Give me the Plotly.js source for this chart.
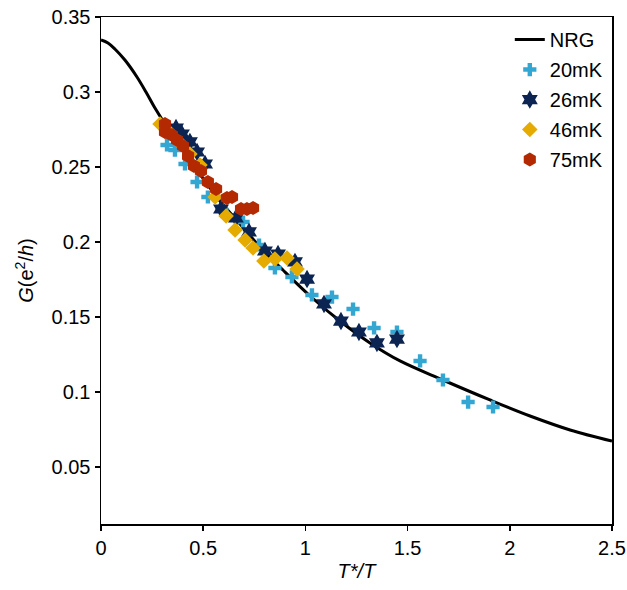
<!DOCTYPE html>
<html>
<head>
<meta charset="utf-8">
<script src="https://cdn.plot.ly/plotly-3.0.1.min.js"></script>
<style>html,body{margin:0;padding:0;background:#fff;}#chart{width:627px;height:590px;}</style>
</head>
<body>
<div id="chart"></div>
<script>
// NRG universal curve
const nrgX = [0, 0.034, 0.068, 0.117, 0.176, 0.220, 0.264, 0.313, 0.387, 0.460, 0.523, 0.582, 0.680, 0.778, 0.890, 1.023, 1.169, 1.316, 1.463, 1.673, 1.903, 2.099, 2.295, 2.5];
const nrgY = [0.3347, 0.3327, 0.3287, 0.3213, 0.310, 0.300, 0.2893, 0.2787, 0.264, 0.250, 0.238, 0.2273, 0.212, 0.1967, 0.1813, 0.164, 0.1473, 0.1327, 0.1207, 0.108, 0.0947, 0.084, 0.0747, 0.0673];

// 20 mK
const x20 = [0.323, 0.362, 0.411, 0.470, 0.523, 0.592, 0.695, 0.773, 0.851, 0.934, 1.032, 1.130, 1.233, 1.336, 1.448, 1.561, 1.673, 1.796, 1.918];
const y20 = [0.2647, 0.2613, 0.252, 0.240, 0.230, 0.2213, 0.2133, 0.198, 0.1827, 0.1767, 0.1647, 0.1633, 0.1553, 0.1427, 0.140, 0.1207, 0.108, 0.0933, 0.090];

// 26 mK
const x26 = [0.367, 0.396, 0.435, 0.470, 0.509, 0.587, 0.660, 0.724, 0.802, 0.866, 0.949, 1.008, 1.091, 1.174, 1.262, 1.350, 1.448];
const y26 = [0.276, 0.272, 0.2667, 0.260, 0.252, 0.222, 0.216, 0.2067, 0.194, 0.192, 0.1867, 0.1753, 0.1587, 0.1473, 0.140, 0.1327, 0.1353];

// 46 mK
const x46 = [0.289, 0.338, 0.387, 0.435, 0.484, 0.558, 0.612, 0.656, 0.705, 0.744, 0.797, 0.851, 0.910, 0.959];
const y46 = [0.2787, 0.2727, 0.266, 0.2587, 0.2513, 0.230, 0.2173, 0.208, 0.2013, 0.196, 0.1873, 0.1887, 0.1893, 0.182];

// 75 mK
const x75 = [0.313, 0.313, 0.347, 0.372, 0.401, 0.426, 0.455, 0.489, 0.523, 0.563, 0.616, 0.641, 0.685, 0.714, 0.744];
const y75 = [0.2787, 0.2733, 0.2713, 0.268, 0.264, 0.2573, 0.2507, 0.2473, 0.240, 0.2353, 0.2293, 0.230, 0.222, 0.222, 0.2227];

const xTicks = [0, 0.5, 1, 1.5, 2, 2.5];
const xTickText = ['0', '0.5', '1', '1.5', '2', '2.5'];
const yTicks = [0.05, 0.1, 0.15, 0.2, 0.25, 0.3, 0.35];
const yTickText = ['0.05', '0.1', '0.15', '0.2', '0.25', '0.3', '0.35'];

const FONT = 'Arial, "Liberation Sans", sans-serif';

const traces = [
  {x: nrgX, y: nrgY, type: 'scatter', mode: 'lines', name: 'NRG', line: {color: '#000000', width: 3, shape: 'spline', smoothing: 1}, legendgroup: 'a'},
  {x: x20, y: y20, type: 'scatter', mode: 'markers', name: '20mK', marker: {symbol: 'cross', size: 11, color: '#33a6d2'}, legendgroup: 'b'},
  {x: x26, y: y26, type: 'scatter', mode: 'markers', name: '26mK', marker: {symbol: 'hexagram', size: 14, color: '#0b2452'}, legendgroup: 'c'},
  {x: x46, y: y46, type: 'scatter', mode: 'markers', name: '46mK', marker: {symbol: 'diamond', size: 12, color: '#e6ab00'}, legendgroup: 'd'},
  {x: x75, y: y75, type: 'scatter', mode: 'markers', name: '75mK', marker: {symbol: 'hexagon', size: 14, color: '#b32a02'}, legendgroup: 'e'}
];

const layout = {
  width: 627, height: 590,
  margin: {l: 101, r: 15, t: 17, b: 66},
  paper_bgcolor: '#ffffff', plot_bgcolor: '#ffffff',
  font: {family: FONT, size: 20, color: '#000000'},
  showlegend: true,
  legend: {x: 0.80, y: 0.994, xanchor: 'left', yanchor: 'top', bgcolor: 'rgba(0,0,0,0)', font: {family: FONT, size: 20}, tracegroupgap: 1, itemwidth: 30},
  xaxis: {
    range: [0, 2.5], tickmode: 'array', tickvals: xTicks, ticktext: xTickText,
    showgrid: false, zeroline: false, showline: true, linecolor: '#000', linewidth: 1.5, mirror: true,
    ticks: 'outside', ticklen: 5, tickwidth: 1.5, tickcolor: '#000',
    tickfont: {family: FONT, size: 20},
    title: {text: '<i>T*/T</i>', font: {family: FONT, size: 20}, standoff: 6}
  },
  yaxis: {
    range: [0.012, 0.35], tickmode: 'array', tickvals: yTicks, ticktext: yTickText,
    showgrid: false, zeroline: false, showline: true, linecolor: '#000', linewidth: 1.5, mirror: true,
    ticks: 'outside', ticklen: 5, tickwidth: 1.5, tickcolor: '#000',
    tickfont: {family: FONT, size: 20},
    title: {text: '<i>G</i>(e<sup>2</sup>/<i>h</i>)', font: {family: FONT, size: 20}, standoff: 12}
  }
};

Plotly.newPlot('chart', traces, layout, {displayModeBar: false, staticPlot: true});
</script>
</body>
</html>
